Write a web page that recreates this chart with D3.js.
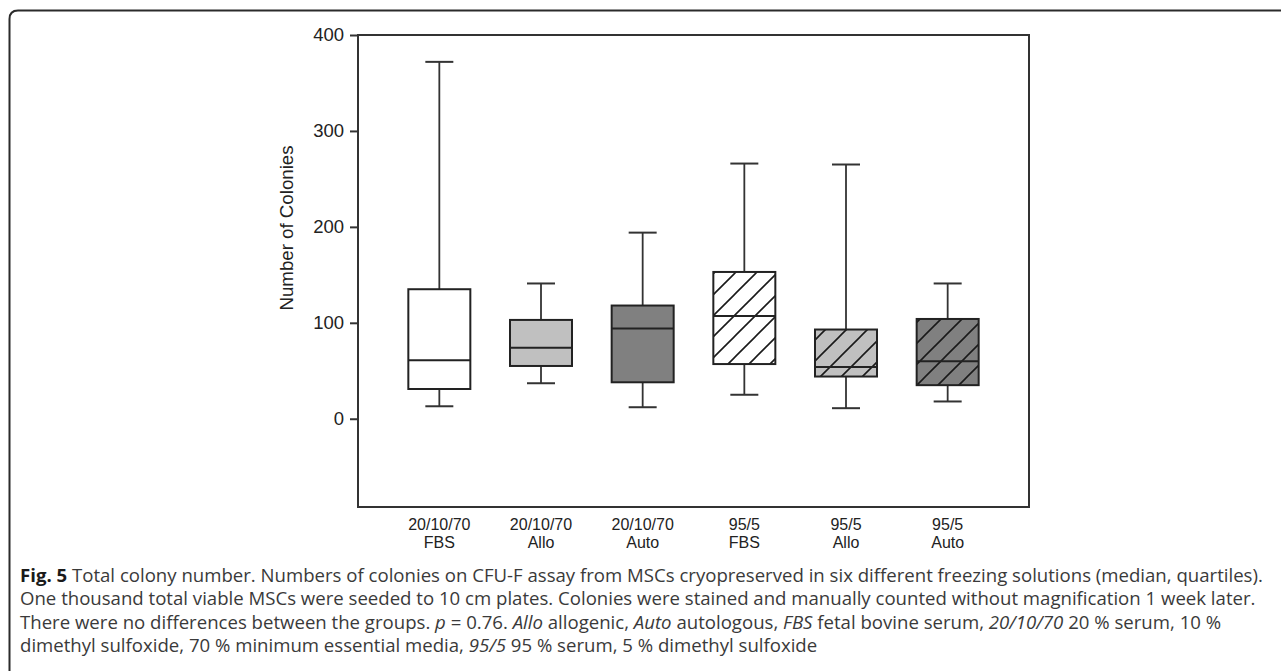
<!DOCTYPE html>
<html>
<head>
<meta charset="utf-8">
<script src="https://cdn.jsdelivr.net/npm/d3@7"></script>
<style>
  html, body { margin: 0; padding: 0; background: #fff; }
  svg { display: block; }
</style>
</head>
<body>
<div class="graphic"></div>
<script>
// groups (two line tick labels)
const groups = ['20/10/70 FBS', '20/10/70 Allo', '20/10/70 Auto', '95/5 FBS', '95/5 Allo', '95/5 Auto'];
const labelTop = ['20/10/70', '20/10/70', '20/10/70', '95/5', '95/5', '95/5'];
const labelBottom = ['FBS', 'Allo', 'Auto', 'FBS', 'Allo', 'Auto'];

// box plot values
const whiskerLow = [13, 37, 12, 25, 11, 18];
const q1 = [31, 55, 38, 57, 44, 35];
const median = [61, 74, 94, 107, 54, 60];
const q3 = [135, 103, 118, 153, 93, 104];
const whiskerHigh = [372, 141, 194, 266, 265, 141];

const yTicks = [0, 100, 200, 300, 400];
const yDomain = [-92, 400];

// styling per group
const boxFill = ['#ffffff', '#c0c0c0', '#808080', '#ffffff', '#c0c0c0', '#808080'];
const boxHatch = [false, false, false, true, true, true];

const width = 1281, height = 671;
const margin = {left: 358, right: 252, top: 35, bottom: 164};

const svg = d3.select('.graphic')
  .append('svg')
  .attr('width', width)
  .attr('height', height);

// figure frame (open to the right and bottom)
svg.append('path')
  .attr('d', 'M9.5,700 L9.5,19 Q9.5,10.5 18,10.5 L1290,10.5')
  .attr('fill', 'none')
  .attr('stroke', '#2b2b2b')
  .attr('stroke-width', 2);

const defs = svg.append('defs');
boxFill.forEach((c, i) => {
  const pat = defs.append('pattern')
    .attr('id', 'hatch' + i)
    .attr('patternUnits', 'userSpaceOnUse')
    .attr('width', 21)
    .attr('height', 21);
  pat.append('rect').attr('width', 21).attr('height', 21).attr('fill', c);
  pat.append('path')
    .attr('d', 'M-2,23 L23,-2 M-12,12 L12,-12 M9,33 L33,9')
    .attr('stroke', '#1a1a1a')
    .attr('stroke-width', 1.6);
});

const x = d3.scalePoint()
  .domain(groups)
  .range([margin.left, width - margin.right])
  .padding(0.8);

const y = d3.scaleLinear()
  .domain(yDomain)
  .range([height - margin.bottom, margin.top]);

const plot = svg.append('g');

// plot frame
plot.append('rect')
  .attr('x', margin.left)
  .attr('y', margin.top)
  .attr('width', width - margin.left - margin.right)
  .attr('height', height - margin.top - margin.bottom)
  .attr('fill', 'none')
  .attr('stroke', '#333')
  .attr('stroke-width', 2);

// y axis
const yAxis = plot.append('g')
  .attr('transform', 'translate(' + margin.left + ',0)')
  .call(d3.axisLeft(y).tickValues(yTicks).tickSize(8).tickPadding(6).tickFormat(d3.format('d')));
yAxis.select('.domain').remove();
yAxis.selectAll('.tick line').attr('stroke', '#333').attr('stroke-width', 2);
yAxis.selectAll('.tick text')
  .attr('fill', '#222')
  .style('font-family', 'Liberation Sans, Arial, sans-serif')
  .style('font-size', '18.5px');

svg.append('text')
  .attr('transform', 'translate(293,228) rotate(-90)')
  .attr('text-anchor', 'middle')
  .attr('fill', '#222')
  .style('font-family', 'Liberation Sans, Arial, sans-serif')
  .style('font-size', '18.7px')
  .text('Number of Colonies');

// x labels
const xl = svg.append('g');
groups.forEach((g, i) => {
  const t = xl.append('text')
    .attr('x', x(g))
    .attr('y', 530)
    .attr('text-anchor', 'middle')
    .attr('fill', '#222')
    .style('font-family', 'Liberation Sans, Arial, sans-serif')
    .style('font-size', '16px');
  t.append('tspan').attr('x', x(g)).text(labelTop[i]);
  t.append('tspan').attr('x', x(g)).attr('dy', 18).text(labelBottom[i]);
});

// boxes
const boxW = 62, capW = 28;
const boxes = plot.selectAll('g.box')
  .data(groups)
  .enter().append('g')
  .attr('class', 'box');

boxes.append('line')
  .attr('x1', d => x(d)).attr('x2', d => x(d))
  .attr('y1', (d, i) => y(whiskerHigh[i])).attr('y2', (d, i) => y(q3[i]))
  .attr('stroke', '#333').attr('stroke-width', 1.8);
boxes.append('line')
  .attr('x1', d => x(d)).attr('x2', d => x(d))
  .attr('y1', (d, i) => y(q1[i])).attr('y2', (d, i) => y(whiskerLow[i]))
  .attr('stroke', '#333').attr('stroke-width', 1.8);
[whiskerHigh, whiskerLow].forEach(arr => {
  boxes.append('line')
    .attr('x1', d => x(d) - capW / 2).attr('x2', d => x(d) + capW / 2)
    .attr('y1', (d, i) => y(arr[i])).attr('y2', (d, i) => y(arr[i]))
    .attr('stroke', '#333').attr('stroke-width', 2);
});

boxes.append('rect')
  .attr('x', d => x(d) - boxW / 2)
  .attr('width', boxW)
  .attr('y', (d, i) => y(q3[i]))
  .attr('height', (d, i) => y(q1[i]) - y(q3[i]))
  .attr('fill', (d, i) => boxHatch[i] ? 'url(#hatch' + i + ')' : boxFill[i])
  .attr('stroke', '#222')
  .attr('stroke-width', 2);

boxes.append('line')
  .attr('x1', d => x(d) - boxW / 2).attr('x2', d => x(d) + boxW / 2)
  .attr('y1', (d, i) => y(median[i])).attr('y2', (d, i) => y(median[i]))
  .attr('stroke', '#222').attr('stroke-width', 2);

// caption
const capLines = [
  [['Fig. 5', 'b'], [' Total colony number. Numbers of colonies on CFU-F assay from MSCs cryopreserved in six different freezing solutions (median, quartiles).', '']],
  [['One thousand total viable MSCs were seeded to 10 cm plates. Colonies were stained and manually counted without magnification 1 week later.', '']],
  [['There were no differences between the groups. ', ''], ['p', 'i'], [' = 0.76. ', ''], ['Allo', 'i'], [' allogenic, ', ''], ['Auto', 'i'],
   [' autologous, ', ''], ['FBS', 'i'], [' fetal bovine serum, ', ''], ['20/10/70', 'i'], [' 20 % serum, 10 %', '']],
  [['dimethyl sulfoxide, 70 % minimum essential media, ', ''], ['95/5', 'i'], [' 95 % serum, 5 % dimethyl sulfoxide', '']]
];
capLines.forEach((parts, li) => {
  const t = svg.append('text')
    .attr('x', 20)
    .attr('y', 582 + li * 23.3)
    .attr('fill', '#3a3a3a')
    .style('font-family', 'Open Sans, Noto Sans, sans-serif')
    .style('font-size', '18.6px');
  parts.forEach(p => {
    t.append('tspan')
      .style('font-weight', p[1] === 'b' ? 'bold' : 'normal')
      .style('font-style', p[1] === 'i' ? 'italic' : 'normal')
      .attr('fill', p[1] === 'b' ? '#1a1a1a' : null)
      .text(p[0]);
  });
});
</script>
</body>
</html>
